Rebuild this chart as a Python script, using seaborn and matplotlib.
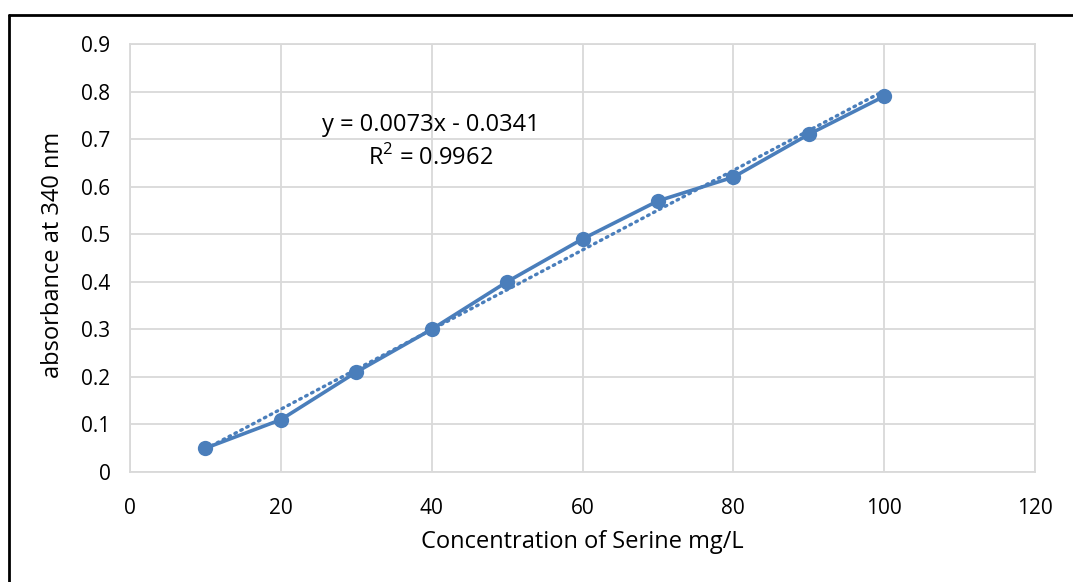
import numpy as np
import pandas as pd
import matplotlib
matplotlib.use("Agg")
import matplotlib.pyplot as plt
import seaborn as sns
from matplotlib.lines import Line2D

concentration = [10, 20, 30, 40, 50, 60, 70, 80, 90, 100]
absorbance = [0.05, 0.11, 0.21, 0.30, 0.40, 0.49, 0.57, 0.62, 0.71, 0.79]
x_ticks = [0, 20, 40, 60, 80, 100, 120]
y_ticks = [0, 0.1, 0.2, 0.3, 0.4, 0.5, 0.6, 0.7, 0.8, 0.9]
y_tick_labels = ["0", "0.1", "0.2", "0.3", "0.4", "0.5", "0.6", "0.7", "0.8", "0.9"]
equation_text = "y = 0.0073x - 0.0341\nR$^2$ = 0.9962"

sns.set_theme(style="white")
plt.rcParams['font.family'] = ['Open Sans', 'DejaVu Sans']
plt.rcParams['mathtext.fontset'] = 'custom'
plt.rcParams['mathtext.rm'] = 'Open Sans'

df = pd.DataFrame({"x": concentration, "y": absorbance})
blue = "#4A7EBB"
grid_c = "#D9D9D9"
fs_tick = 15
fs_lab = 17

fig = plt.figure(figsize=(10.73, 5.82), dpi=100)
W, H = 1073, 582
ax = fig.add_axes([130 / W, 1 - 472 / H, (1035 - 130) / W, (472 - 44) / H])

# trendline (linear fit of the data)
coef = np.polyfit(df["x"], df["y"], 1)
tx = np.array([min(concentration), max(concentration)])
ax.plot(tx, np.polyval(coef, tx), color=blue, lw=2.4, ls=(0, (0.5, 1.5)),
        dash_capstyle="round", zorder=2)

sns.lineplot(data=df, x="x", y="y", ax=ax, color=blue, lw=2.6, marker="o",
             markersize=11, markeredgewidth=0, zorder=3)

ax.set_xlim(0, 120)
ax.set_ylim(0, 0.9)
ax.set_xticks(x_ticks)
ax.set_yticks(y_ticks)
ax.set_yticklabels(y_tick_labels)
ax.grid(True, color=grid_c, lw=1.3)
for s in ax.spines.values():
    s.set_color(grid_c)
    s.set_linewidth(1.3)
ax.tick_params(axis="both", length=0, labelsize=fs_tick, colors="black")
ax.tick_params(axis="x", pad=19)
ax.tick_params(axis="y", pad=14)
ax.set_xlabel("")
ax.set_ylabel("")
fig.text(582.5 / W, 1 - 542 / H, "Concentration of Serine mg/L", fontsize=fs_lab,
         ha="center", va="center", color="black")
fig.text(53 / W, 1 - 255 / H, "absorbance at 340 nm", fontsize=fs_lab, rotation=90,
         ha="center", va="center", color="black")

ax.text(39.9, 0.695, equation_text, ha="center", va="center", fontsize=fs_lab,
        linespacing=1.4, color="black")

# outer chart border (partially visible)
fig.add_artist(Line2D([9 / W, 9 / W], [0, 1 - 15 / H], transform=fig.transFigure,
                      color="black", lw=2))
fig.add_artist(Line2D([9 / W, 1], [1 - 15 / H, 1 - 15 / H], transform=fig.transFigure,
                      color="black", lw=2))

fig.savefig("out.png", dpi=100)
